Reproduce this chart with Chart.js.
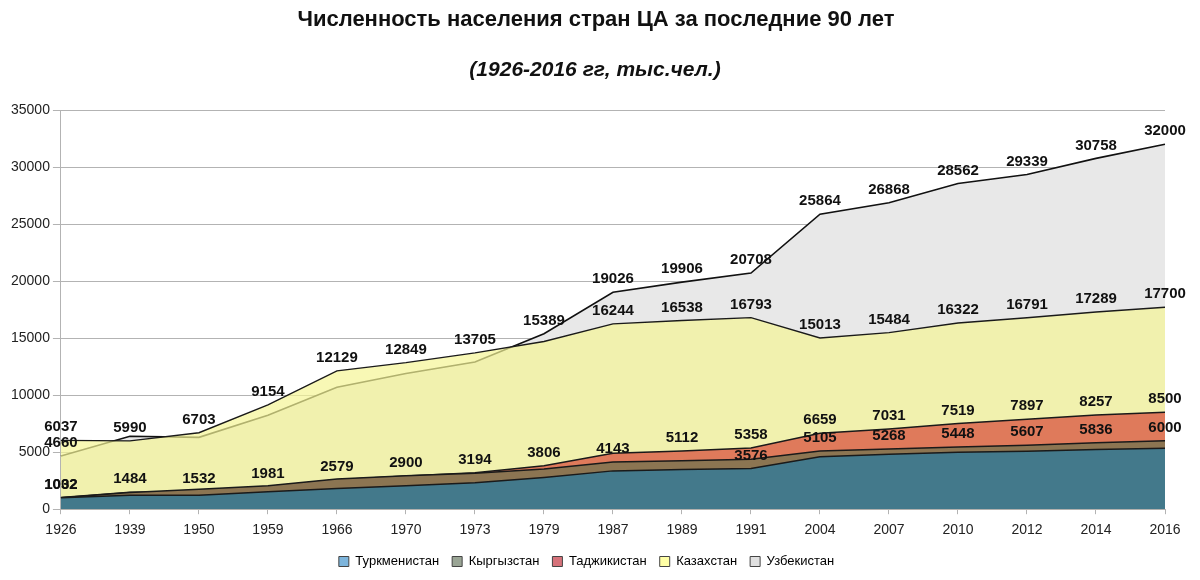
<!DOCTYPE html>
<html>
<head>
<meta charset="utf-8">
<script src="https://cdn.jsdelivr.net/npm/chart.js@4/dist/chart.umd.min.js"></script>
<style>
  html, body { margin: 0; padding: 0; background: #fff; }
  #wrap { width: 1200px; height: 580px; }
</style>
</head>
<body>
<div id="wrap"><canvas id="popChart"></canvas></div>
<script>
// data, thousands of people
const years = ["1926","1939","1950","1959","1966","1970","1973","1979","1987","1989","1991","2004","2007","2010","2012","2014","2016"];
const turkmen = [1000,1230,1230,1520,1810,2050,2310,2780,3360,3480,3576,4600,4820,5000,5090,5240,5350];
const kyrgyz  = [1002,1458,1740,2066,2650,2933,3145,3523,4143,4258,4380,5105,5268,5448,5607,5836,6000];
const tajik   = [1032,1484,1532,1981,2579,2900,3194,3806,4900,5112,5358,6659,7031,7519,7897,8257,8500];
const kazakh  = [6037,5990,6703,9154,12129,12849,13705,14700,16244,16538,16793,15013,15484,16322,16791,17289,17700];
const uzbek   = [4660,6400,6300,8240,10700,11900,12900,15389,19026,19906,20708,25864,26868,28562,29339,30758,32000];

// which points carry a value label in the original
const turkmenLabels = [10];
const kyrgyzLabels  = [0,8,11,12,13,14,15,16];
const tajikLabels   = [0,1,2,3,4,5,6,7,9,10,11,12,13,14,15,16];
const kazakhLabels  = [0,1,2,3,4,5,6,8,9,10,11,12,13,14,15,16];
const uzbekLabels   = [0,7,8,9,10,11,12,13,14,15,16];

const legendColors = ["#7db5dc","#9aa595","#d6727a","#ffffa6","#e0e0e0"];

const titleText = "Численность населения стран ЦА за последние 90 лет";
const subtitleText = "(1926-2016 гг, тыс.чел.)";

Chart.defaults.font.family = "'Liberation Sans', Arial, sans-serif";

// titles centred on the whole picture, not on the plot
const titles = {
    id: "titles",
    afterDraw(chart) {
        const ctx = chart.ctx;
        ctx.save();
        ctx.fillStyle = "#111";
        ctx.textAlign = "center";
        ctx.textBaseline = "middle";
        ctx.font = "bold 22px 'Liberation Sans', Arial, sans-serif";
        ctx.fillText(titleText, chart.width / 2 - 4, 20);
        ctx.font = "italic bold 21px 'Liberation Sans', Arial, sans-serif";
        ctx.fillText(subtitleText, chart.width / 2 - 5, 70);
        ctx.restore();
    }
};

const valueLabels = {
    id: "valueLabels",
    afterDatasetsDraw(chart) {
        const ctx = chart.ctx;
        ctx.save();
        ctx.font = "bold 15px 'Liberation Sans', Arial, sans-serif";
        ctx.fillStyle = "#111";
        ctx.textAlign = "center";
        ctx.textBaseline = "middle";
        chart.data.datasets.forEach((ds, di) => {
            const meta = chart.getDatasetMeta(di);
            ds.shownLabels.forEach(i => {
                const pt = meta.data[i];
                ctx.fillText(String(ds.data[i]), pt.x, pt.y - 13);
            });
        });
        ctx.restore();
    }
};

function series(label, data, fill, border, width, shown) {
    return {
        label: label,
        data: data,
        fill: "origin",
        backgroundColor: fill,
        borderColor: border,
        borderWidth: width,
        pointRadius: 0,
        pointHoverRadius: 0,
        tension: 0,
        shownLabels: shown
    };
}

new Chart(document.getElementById("popChart"), {
    type: "line",
    data: {
        labels: years,
        datasets: [
            series("Туркменистан", turkmen, "#43798b", "#1a1a1a", 1.5, turkmenLabels),
            series("Кыргызстан", kyrgyz, "#8c7552", "#1a1a1a", 1.5, kyrgyzLabels),
            series("Таджикистан", tajik, "#df7a5b", "#1a1a1a", 1.5, tajikLabels),
            series("Казахстан", kazakh, "rgba(245,245,150,0.7)", "#1a1a1a", 1.4, kazakhLabels),
            series("Узбекистан", uzbek, "#e8e8e8", "#111", 1.6, uzbekLabels)
        ]
    },
    options: {
        responsive: true,
        maintainAspectRatio: false,
        animation: false,
        layout: { padding: { left: 8, right: 35, top: 110, bottom: 2 } },
        plugins: {
            title: { display: false },
            legend: {
                position: "bottom",
                labels: {
                    boxWidth: 10,
                    boxHeight: 10,
                    padding: 13,
                    color: "#222",
                    font: { size: 13 },
                    generateLabels(chart) {
                        return chart.data.datasets.map((ds, i) => ({
                            text: ds.label,
                            fillStyle: legendColors[i],
                            strokeStyle: "#444",
                            lineWidth: 1,
                            hidden: false,
                            datasetIndex: i
                        }));
                    }
                }
            },
            tooltip: { enabled: false }
        },
        scales: {
            x: {
                offset: false,
                grid: { drawOnChartArea: false, drawTicks: true, tickLength: 5, color: "#b3b3b3" },
                border: { color: "#b3b3b3" },
                ticks: { autoSkip: false, maxRotation: 0, color: "#222", font: { size: 14 }, padding: 8 },
                afterFit(scale) { scale.height -= 5; }
            },
            y: {
                min: 0,
                max: 35000,
                grid: { color: "#b3b3b3", tickLength: 8 },
                border: { color: "#b3b3b3" },
                ticks: { stepSize: 5000, color: "#222", font: { size: 14 }, padding: 3, callback: v => v }
            }
        }
    },
    plugins: [valueLabels, titles]
});
</script>
</body>
</html>
